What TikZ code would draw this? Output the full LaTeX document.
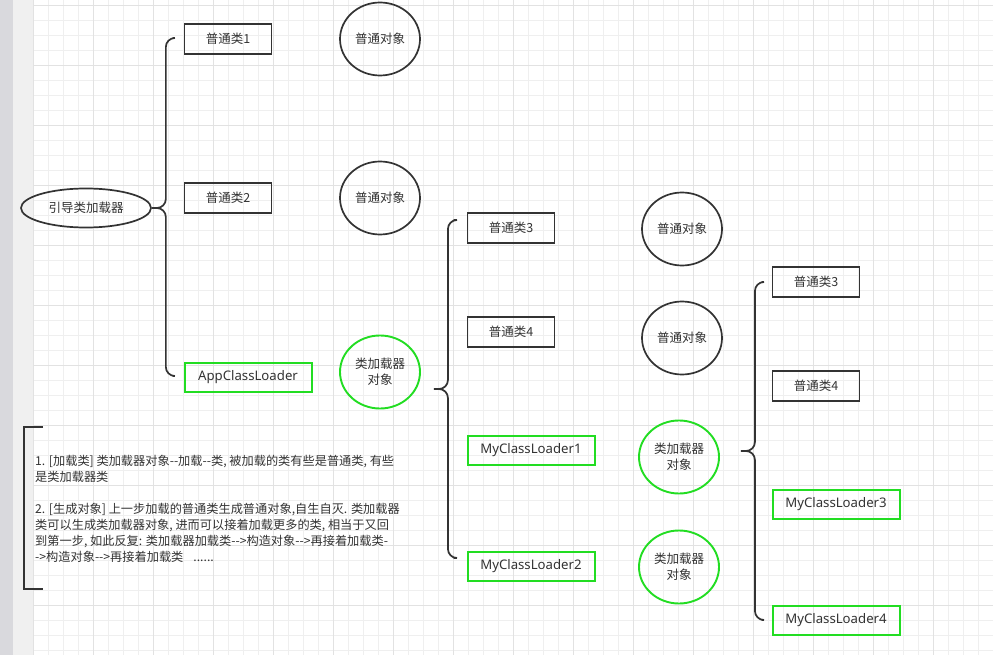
\documentclass[tikz,border=0pt]{standalone}
\usepackage{fontspec}
\setmainfont{Noto Sans CJK SC}
\newfontfamily\latinfont{Noto Sans}
\usetikzlibrary{shapes.geometric,calc}
\newcommand{\hh}{-\kern0pt-}

\begin{document}
\begin{tikzpicture}[x=1pt,y=-1pt,
  every node/.style={font=\fontsize{12.5}{16}\selectfont,text=ink},
  cls/.style={draw=ink,line width=1.8pt,minimum width=87,minimum height=30,inner sep=0},
  ldr/.style={draw=lgreen,line width=2pt,minimum width=127,minimum height=29,inner sep=0,
    font=\latinfont\fontsize{13.2}{16}\selectfont},
  obj/.style={ellipse,draw=ink,line width=1.7pt,minimum width=80,minimum height=73,inner sep=0,align=center},
  lobj/.style={obj,draw=lgreen,line width=1.9pt},
  brc/.style={draw=ink,line width=1.7pt,rounded corners=9pt},
  gridminor/.style={draw=gridlight,line width=0.8pt},
  gridmajor/.style={draw=griddark,line width=0.8pt}]
\definecolor{ink}{HTML}{333333}
\definecolor{lgreen}{HTML}{22DD22}
\definecolor{gridlight}{HTML}{EFEFEF}
\definecolor{griddark}{HTML}{E2E2E2}
\definecolor{bandgray}{HTML}{D9D9DD}
\definecolor{bandlight}{HTML}{F0F0F0}
\useasboundingbox (0,0) rectangle (993,655);
% background and grid
\fill[white] (33,0) rectangle (993,655);
\fill[bandgray] (0,0) rectangle (13,655);
\fill[bandlight] (13,0) rectangle (33,655);
\foreach \x in {33,48,...,993} \draw[gridminor] (\x,0) -- (\x,655);
\foreach \y in {5,20,...,650} \draw[gridminor] (33,\y) -- (993,\y);
\foreach \x in {33,93,...,993} \draw[gridmajor] (\x,0) -- (\x,655);
\foreach \y in {5,65,...,605} \draw[gridmajor] (33,\y) -- (993,\y);

% first level
\node[ellipse,draw=ink,line width=1.7pt,minimum width=130,minimum height=39,inner sep=0] (boot) at (86,208) {引导类加载器};
\node[cls] (c1) at (228,39) {普通类1};
\node[cls] (c2) at (228,198) {普通类2};
\node[ldr] (app) at (248,377) {AppClassLoader};

% second and third level
\node[cls] (c3) at (511,228) {普通类3};
\node[cls] (c4) at (511,332) {普通类4};
\node[ldr] (ml1) at (531,450) {MyClassLoader1};
\node[ldr] (ml2) at (531,566) {MyClassLoader2};
\node[cls] (c5) at (816,282) {普通类3};
\node[cls] (c6) at (816,386) {普通类4};
\node[ldr] (ml3) at (836,504) {MyClassLoader3};
\node[ldr] (ml4) at (836,620) {MyClassLoader4};

% objects
\foreach \n/\x/\y in {o1/380/39,o2/380/198,o3/682/229,o4/682/338}
  {\node[obj] (\n) at (\x,\y) {普通对象};}
\foreach \n/\x/\y in {lo0/380/372,lo1/679/457,lo2/679/567}
  {\node[lobj] (\n) at (\x,\y) {类加载器\\对象};}

% braces
\coordinate (b1tip) at (boot.east);
\coordinate (b1top) at ($(c1.west)+(-11,-1)$);
\coordinate (b1bot) at ($(app.west)+(-11,-1)$);
\coordinate (b2tip) at ($(lo0.east)+(13,17)$);
\coordinate (b2top) at ($(c3.west)+(-13,-8)$);
\coordinate (b2bot) at ($(ml2.west)+(-13,-8)$);
\coordinate (b3tip) at ($(lo1.east)+(21,-6)$);
\coordinate (b3top) at ($(c5.west)+(-10,0)$);
\coordinate (b3bot) at ($(ml4.west)+(-10,0)$);
\foreach \b in {1,2,3}
  {\draw[brc] (b\b tip) -- ++(14,0) coordinate (b\b mid) |- (b\b top)
     (b\b tip) -- (b\b mid) |- (b\b bot);}

% note
\draw[ink,line width=1.7pt] (43,427) -| (24,589) -- (43,589);
\node[anchor=north west,align=left,inner sep=0,font=\fontsize{12.2}{16}\selectfont] (note) at (35,455)
  {1. [加载类] 类加载器对象\hh 加载\hh 类, 被加载的类有些是普通类, 有些\\
   是类加载器类\\[16pt]
   2. [生成对象] 上一步加载的普通类生成普通对象,自生自灭. 类加载器\\
   类可以生成类加载器对象, 进而可以接着加载更多的类, 相当于又回\\
   到第一步, 如此反复: 类加载器加载类\hh>构造对象\hh>再接着加载类-\\
   ->构造对象\hh>再接着加载类\hspace{10pt}......};
\end{tikzpicture}
\end{document}
